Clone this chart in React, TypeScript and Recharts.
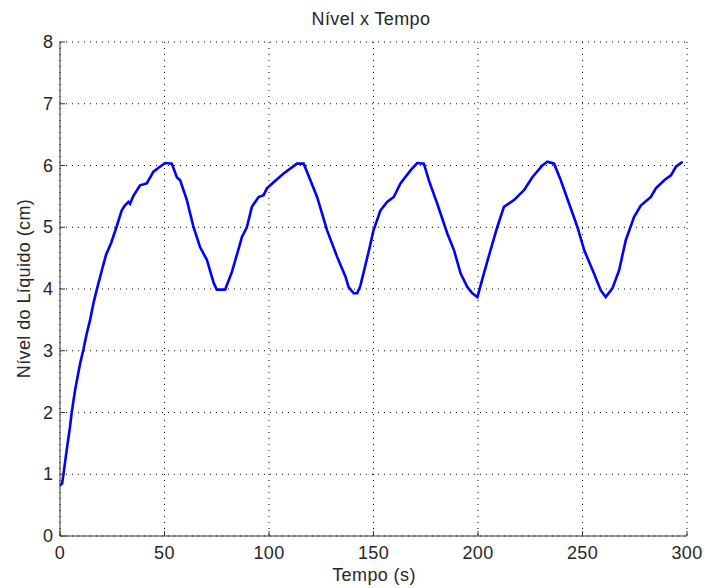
import { LineChart, Line, XAxis, YAxis, CartesianGrid } from "recharts";

const timeSec = [
  0, 1, 1.6, 3.2, 4.8, 5.6, 7.2, 9.6, 11.2, 12.8, 14.4, 16, 17.6, 20, 22, 24.5, 27, 29.5, 31, 32.7,
  33.5, 35, 38.3, 41.5, 44.7, 47, 50.3, 53.5, 55.9, 57.5, 60.7, 63.9, 67, 69.5, 70.3, 73.5, 75, 79,
  82.3, 86.2, 87, 89.4, 91.8, 95, 97.4, 99, 102.2, 107, 113.4, 116.6, 119.8, 123, 127.8, 132.6,
  136.6, 138.1, 140.5, 142.2, 143.7, 145.5, 148, 150, 153.3, 156.5, 159.7, 162.9, 167.7, 170.9,
  174.1, 176.5, 180.5, 185.3, 188.5, 191.7, 194.9, 197.3, 199.7, 202.8, 206, 209.2, 212.4, 217.2,
  222, 226, 230.8, 233.2, 236.4, 239.6, 243.6, 247.6, 250.8, 255.5, 258.7, 261.1, 264.3, 267.5,
  270.7, 274.7, 277.9, 282.7, 285.1, 289.1, 292.3, 294.7, 297.9,
];

const levelCm = [
  0.82, 0.85, 0.99, 1.39, 1.77, 2.0, 2.36, 2.79, 3.02, 3.28, 3.5, 3.77, 3.99, 4.3, 4.55, 4.75, 5.0,
  5.27, 5.35, 5.41, 5.38, 5.5, 5.68, 5.71, 5.9, 5.96, 6.04, 6.03, 5.81, 5.76, 5.44, 5.0, 4.68, 4.52,
  4.47, 4.1, 3.99, 3.99, 4.28, 4.74, 4.84, 5.0, 5.33, 5.49, 5.52, 5.63, 5.73, 5.87, 6.03, 6.03, 5.76,
  5.49, 4.95, 4.52, 4.2, 4.03, 3.93, 3.93, 4.05, 4.3, 4.65, 4.95, 5.27, 5.41, 5.49, 5.71, 5.92, 6.04,
  6.03, 5.76, 5.38, 4.9, 4.63, 4.25, 4.03, 3.93, 3.87, 4.25, 4.63, 5.0, 5.33, 5.44, 5.6, 5.81, 6.0,
  6.06, 6.03, 5.76, 5.38, 5.0, 4.63, 4.25, 3.98, 3.87, 4.01, 4.3, 4.79, 5.17, 5.35, 5.49, 5.63, 5.76,
  5.84, 5.98, 6.06,
];

const xTicks = [0, 50, 100, 150, 200, 250, 300];
const yTicks = [0, 1, 2, 3, 4, 5, 6, 7, 8];

const title = "Nível x Tempo";
const xLabel = "Tempo (s)";
const yLabel = "Nível do Líquido (cm)";

const data = timeSec.map((t, i) => ({ t, level: levelCm[i] }));

const font = '"Liberation Sans", Arial, sans-serif';
const textColor = "#262626";
const axisColor = "#333333";
const fs = 18;
const ls = 0.4;

const XTick = (props: any) => {
  const { x, y, payload } = props;
  return (
    <g>
      <line x1={x} y1={y} x2={x} y2={y - 5} stroke={axisColor} strokeWidth={1} />
      <text x={x} y={y + 23} textAnchor="middle" fill={textColor} fontSize={fs} fontFamily={font} letterSpacing={ls}>
        {payload.value}
      </text>
    </g>
  );
};

const YTick = (props: any) => {
  const { x, y, payload } = props;
  return (
    <g>
      <line x1={x} y1={y} x2={x + 5} y2={y} stroke={axisColor} strokeWidth={1} />
      <text x={x - 7} y={y + 6} textAnchor="end" fill={textColor} fontSize={fs} fontFamily={font}>
        {payload.value}
      </text>
    </g>
  );
};

export default function App() {
  return (
    <div style={{ position: "absolute", left: 0, top: 0, width: 705, height: 588, background: "#fff", fontFamily: font }}>
      <LineChart width={705} height={588} data={data} margin={{ top: 42, right: 18, left: 0, bottom: 0 }}>
        <CartesianGrid stroke="#000" strokeDasharray="1 5" strokeWidth={1} />
        <XAxis
          dataKey="t"
          type="number"
          domain={[0, 300]}
          ticks={xTicks}
          height={52}
          tickSize={0}
          tickMargin={0}
          tickLine={false}
          stroke={axisColor}
          tick={<XTick />}
          interval={0}
        />
        <YAxis
          type="number"
          domain={[0, 8]}
          ticks={yTicks}
          width={60}
          tickSize={0}
          tickMargin={0}
          tickLine={false}
          stroke={axisColor}
          tick={<YTick />}
          interval={0}
        />
        <Line
          type="linear"
          dataKey="level"
          stroke="#0000ff"
          strokeWidth={2.6}
          dot={false}
          isAnimationActive={false}
        />
      </LineChart>
      <div style={{ position: "absolute", left: 271, top: 9, width: 200, textAlign: "center", fontSize: fs, letterSpacing: ls, color: textColor }}>
        {title}
      </div>
      <div style={{ position: "absolute", left: 274, top: 565, width: 200, textAlign: "center", fontSize: fs, letterSpacing: ls, color: textColor }}>
        {xLabel}
      </div>
      <div
        style={{
          position: "absolute",
          left: 24 - 120,
          top: 289 - 11,
          width: 240,
          textAlign: "center",
          fontSize: fs,
          letterSpacing: ls,
          color: textColor,
          transform: "rotate(-90deg)",
          transformOrigin: "50% 50%",
          whiteSpace: "nowrap",
        }}
      >
        {yLabel}
      </div>
    </div>
  );
}
